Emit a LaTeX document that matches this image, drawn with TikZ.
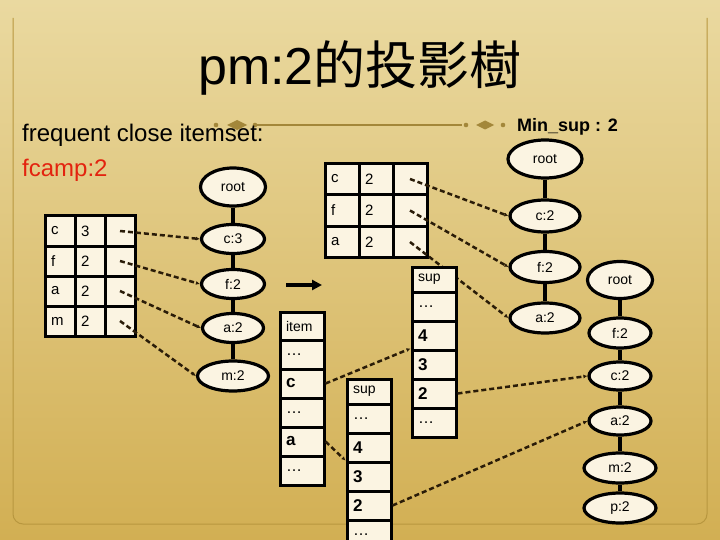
\documentclass[tikz,border=0pt]{standalone}
\usepackage{fontspec}
\setmainfont{Liberation Sans}
\newfontfamily\cjk{Noto Sans CJK TC}
\usepackage{tikz}
\usepackage{xcolor}
\definecolor{SlideTop}{HTML}{EAD9A0}
\definecolor{SlideMid}{HTML}{D9BC66}
\definecolor{SlideLow}{HTML}{D2AF53}
\definecolor{Cream}{HTML}{FBF4E2}
\definecolor{FrameGold}{HTML}{B8973F}
\definecolor{RuleBrown}{HTML}{A3873A}
\definecolor{FcRed}{HTML}{E3230F}
\definecolor{LinkDark}{HTML}{2A1C08}
\usetikzlibrary{shapes.geometric, arrows.meta}

\begin{document}
\begin{tikzpicture}[x=1pt, y=-1pt,
    txt/.style={inner sep=0pt},
    cell/.style={draw=black, line width=3pt, fill=Cream, align=left, inner xsep=6pt, inner ysep=0pt, font=\fontsize{15}{15}\selectfont},
    lcell/.style={cell, text width=18pt, minimum height=30pt},
    mcell/.style={cell, text width=22pt, minimum height=31.5pt},
    tcell/.style={cell, text width=32pt, minimum height=29pt},
    head/.style={minimum height=25pt, font=\fontsize{14}{14}\selectfont},
    big/.style={font=\bfseries\fontsize{17}{17}\selectfont},
    dots/.style={font=\fontsize{16}{16}\selectfont},
    knot/.style={ellipse, draw=black, line width=3.2pt, fill=Cream, inner sep=0pt, minimum width=63pt, minimum height=29pt, font=\fontsize{14}{14}\selectfont},
    rootknot/.style={knot, minimum height=38pt},
    branch/.style={line width=3.6pt},
    link/.style={draw=LinkDark, line width=2.5pt, dash pattern=on 5pt off 3pt, -{Latex[length=4pt,width=4pt]}}
]
    \useasboundingbox (0,0) rectangle (720,540);
    \shade[top color=SlideTop, middle color=SlideMid, bottom color=SlideLow] (0,0) rectangle (720,540);
    \draw[FrameGold, line width=1pt, rounded corners=10pt] (13,18) -- (13,524) -- (707,524) -- (707,18);

    % ornament rule
    \draw[RuleBrown, line width=1.2pt] (255,125) -- (462,125);
    \fill[RuleBrown] (216,125) circle (2.3) (255,125) circle (2.3);
    \fill[RuleBrown] (227,125) -- (237,120) -- (247,125) -- (237,130) -- cycle;
    \fill[RuleBrown] (466,125) circle (2.3) (503,125) circle (2.3);
    \fill[RuleBrown] (476,125) -- (485,120.5) -- (494,125) -- (485,129.5) -- cycle;

    % titles
    \node[txt, anchor=base, font=\fontsize{52}{60}\selectfont] (title) at (360,85) {pm:2{\cjk 的投影樹}};
    \node[txt, anchor=base west, font=\fontsize{24}{28}\selectfont] (fci) at (22,142) {frequent close itemset:};
    \node[txt, anchor=base west, font=\fontsize{24}{28}\selectfont, text=FcRed] (fcamp) at (22,177) {fcamp:2};
    \node[txt, anchor=base west, font=\bfseries\fontsize{18}{20}\selectfont] (minsup) at (517,132) {Min\_sup : 2};

    % header table of fcamp:2
    \node[lcell] (lc1) at (60,231) {c};
    \node[lcell] (ln1) at (90,231) {3};
    \node[lcell] (lp1) at (120,231) {};
    \node[lcell] (lc2) at (60,261) {f};
    \node[lcell] (ln2) at (90,261) {2};
    \node[lcell] (lp2) at (120,261) {};
    \node[lcell] (lc3) at (60,291) {a};
    \node[lcell] (ln3) at (90,291) {2};
    \node[lcell] (lp3) at (120,291) {};
    \node[lcell] (lc4) at (60,321) {m};
    \node[lcell] (ln4) at (90,321) {2};
    \node[lcell] (lp4) at (120,321) {};

    % header table after Min_sup
    \node[mcell] (mc1) at (342,179) {c};
    \node[mcell] (mn1) at (376,179) {2};
    \node[mcell] (mp1) at (410,179) {};
    \node[mcell] (mc2) at (342,210.5) {f};
    \node[mcell] (mn2) at (376,210.5) {2};
    \node[mcell] (mp2) at (410,210.5) {};
    \node[mcell] (mc3) at (342,242) {a};
    \node[mcell] (mn3) at (376,242) {2};
    \node[mcell] (mp3) at (410,242) {};

    % fcamp tree
    \node[rootknot, minimum width=65pt] (lroot) at (233,187) {root};
    \node[knot] (lkc) at (233,239) {c:3};
    \node[knot] (lkf) at (233,284) {f:2};
    \node[knot, minimum width=61pt] (lka) at (233,328) {a:2};
    \node[knot, minimum width=71pt, minimum height=30pt] (lkm) at (233,376) {m:2};
    \draw[branch] (lroot) -- (lkc) -- (lkf) -- (lka) -- (lkm);

    % projected tree
    \node[rootknot, minimum width=74pt] (mroot) at (545,159) {root};
    \node[knot, minimum width=70pt, minimum height=32pt] (mkc) at (545,216) {c:2};
    \node[knot, minimum width=70pt, minimum height=31pt] (mkf) at (545,267) {f:2};
    \node[knot, minimum width=70pt, minimum height=30pt] (mka) at (545,318) {a:2};
    \draw[branch] (mroot) -- (mkc) -- (mkf) -- (mka);

    % far right tree
    \node[rootknot, minimum width=65pt, minimum height=37pt] (rroot) at (620,280) {root};
    \node[knot, minimum width=62pt, minimum height=30pt] (rkf) at (620,333) {f:2};
    \node[knot, minimum width=62pt, minimum height=28pt] (rkc) at (620,376) {c:2};
    \node[knot, minimum width=62pt, minimum height=28pt] (rka) at (620,421) {a:2};
    \node[knot, minimum width=72pt, minimum height=30pt] (rkm) at (620,468) {m:2};
    \node[knot, minimum width=72pt, minimum height=30pt] (rkp) at (620,508) {p:2};
    \draw[branch] (rroot) -- (rkf) -- (rkc) -- (rka) -- (rkm) -- (rkp);

    \coordinate (arrS) at (286,285);
    \coordinate (arrE) at (322,285);
    \draw[line width=3.4pt, -{Triangle[length=10pt,width=10pt]}] (arrS) -- (arrE);

    \draw[link] (lp1.center) -- (lkc.west);
    \draw[link] (lp2.center) -- (lkf.west);
    \draw[link] (lp3.center) -- (lka.west);
    \draw[link] (lp4.center) -- (lkm.west);
    \draw[link] (mp1.center) -- (mkc.west);
    \draw[link] (mp2.center) -- (mkf.west);
    \draw[link] (mp3.center) -- (mka.west); % runs behind the sup table

    % item table
    \node[tcell, head, minimum height=28pt] (it0) at (302,326) {item};
    \node[tcell, dots] (it1) at (302,354.5) {…};
    \node[tcell, big] (itc) at (302,383.5) {c};
    \node[tcell, dots] (it3) at (302,412.5) {…};
    \node[tcell, big] (ita) at (302,441.5) {a};
    \node[tcell, dots] (it5) at (302,470.5) {…};

    % sup tables
    \node[tcell, head] (sa0) at (369,391.5) {sup};
    \node[tcell, dots] (sa1) at (369,418.5) {…};
    \node[tcell, big] (sa4) at (369,447.5) {4};
    \node[tcell, big] (sa3) at (369,476.5) {3};
    \node[tcell, big] (sa2) at (369,505.5) {2};
    \node[tcell, dots] (sa5) at (369,534.5) {…};

    \node[tcell, head] (sb0) at (434,279.5) {sup};
    \node[tcell, dots] (sb1) at (434,306.5) {…};
    \node[tcell, big] (sb4) at (434,335.5) {4};
    \node[tcell, big] (sb3) at (434,364.5) {3};
    \node[tcell, big] (sb2) at (434,393.5) {2};
    \node[tcell, dots] (sb5) at (434,422.5) {…};

    \draw[link] (itc.east) -- (sb3.north west);
    \draw[link] (ita.east) -- (sa3.north west);
    \draw[link] (sb2.east) -- (rkc.west);
    \draw[link] (sa2.east) -- (rka.west);
\end{tikzpicture}
\end{document}
